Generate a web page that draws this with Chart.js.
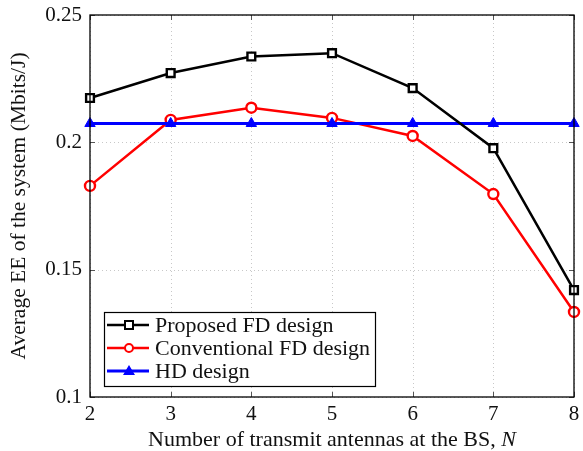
<!DOCTYPE html>
<html>
<head>
<meta charset="utf-8">
<script src="https://cdn.jsdelivr.net/npm/chart.js@4"></script>
<style>
  html, body { margin: 0; padding: 0; background: #fff; }
  #wrap { width: 583px; height: 451px; }
</style>
</head>
<body>
<div id="wrap"><canvas id="chartEE" width="583" height="451"></canvas></div>
<script>
// data
const antennas = [2, 3, 4, 5, 6, 7, 8];
const proposedFD = [0.2174, 0.2272, 0.2337, 0.2350, 0.2213, 0.1977, 0.1420];
const conventionalFD = [0.1829, 0.2088, 0.2136, 0.2096, 0.2025, 0.1797, 0.1334];
const hdDesign = [0.2074, 0.2074, 0.2074, 0.2074, 0.2074, 0.2074, 0.2074];
const yTicks = [0.1, 0.15, 0.2, 0.25];
const seriesNames = ["Proposed FD design", "Conventional FD design", "HD design"];

const SERIF = "'Liberation Serif', 'DejaVu Serif', serif";

function toPoints(ys) {
  return antennas.map((x, i) => ({ x: x, y: ys[i] }));
}

// frame, dotted grid, inward ticks, axis titles and the boxed legend
const decorPlugin = {
  id: "decor",
  beforeDatasetsDraw(chart) {
    const ctx = chart.ctx;
    const a = chart.chartArea;
    const xs = chart.scales.x;
    const ys = chart.scales.y;
    ctx.save();
    ctx.strokeStyle = "#c8c8c8";
    ctx.lineWidth = 1;
    ctx.setLineDash([1, 3]);
    ctx.beginPath();
    antennas.forEach((v) => {
      const px = Math.round(xs.getPixelForValue(v)) + 0.5;
      ctx.moveTo(px, a.top); ctx.lineTo(px, a.bottom);
    });
    yTicks.forEach((v) => {
      const py = Math.round(ys.getPixelForValue(v)) + 0.5;
      ctx.moveTo(a.left, py); ctx.lineTo(a.right, py);
    });
    ctx.stroke();
    ctx.restore();
  },
  afterDraw(chart) {
    const ctx = chart.ctx;
    const a = chart.chartArea;
    const xs = chart.scales.x;
    const ys = chart.scales.y;
    ctx.save();

    // inward tick marks on all four sides
    ctx.strokeStyle = "#555";
    ctx.lineWidth = 1;
    ctx.beginPath();
    antennas.forEach((v) => {
      const px = Math.round(xs.getPixelForValue(v)) + 0.5;
      ctx.moveTo(px, a.bottom); ctx.lineTo(px, a.bottom - 5);
      ctx.moveTo(px, a.top); ctx.lineTo(px, a.top + 5);
    });
    yTicks.forEach((v) => {
      const py = Math.round(ys.getPixelForValue(v)) + 0.5;
      ctx.moveTo(a.left, py); ctx.lineTo(a.left + 5, py);
      ctx.moveTo(a.right, py); ctx.lineTo(a.right - 5, py);
    });
    ctx.stroke();

    // frame
    ctx.strokeStyle = "#000";
    ctx.lineWidth = 1.3;
    ctx.strokeRect(a.left, a.top, a.right - a.left, a.bottom - a.top);

    // x title with italic N
    ctx.fillStyle = "#111";
    ctx.textBaseline = "middle";
    const t1 = "Number of transmit antennas at the BS, ";
    ctx.font = "22px " + SERIF;
    const w1 = ctx.measureText(t1).width;
    ctx.font = "italic 22px " + SERIF;
    const w2 = ctx.measureText("N").width;
    const cx = (a.left + a.right) / 2;
    const x0 = cx - (w1 + w2) / 2;
    ctx.textAlign = "left";
    ctx.font = "22px " + SERIF;
    ctx.fillText(t1, x0, 440);
    ctx.font = "italic 22px " + SERIF;
    ctx.fillText("N", x0 + w1, 440);

    // y title
    ctx.save();
    ctx.translate(19, (a.top + a.bottom) / 2);
    ctx.rotate(-Math.PI / 2);
    ctx.textAlign = "center";
    ctx.font = "21.5px " + SERIF;
    ctx.fillText("Average EE of the system (Mbits/J)", 0, 0);
    ctx.restore();

    // legend box
    const bx = 104, by = 312, bw = 271, bh = 74;
    ctx.fillStyle = "#fff";
    ctx.fillRect(bx, by, bw, bh);
    ctx.strokeStyle = "#000";
    ctx.lineWidth = 1.2;
    ctx.strokeRect(bx + 0.5, by + 0.5, bw, bh);
    const rowsY = [325, 348, 371];
    chart.data.datasets.forEach((ds, i) => {
      const ry = rowsY[i];
      ctx.strokeStyle = ds.borderColor;
      ctx.lineWidth = ds.borderWidth;
      ctx.beginPath();
      ctx.moveTo(bx + 3, ry);
      ctx.lineTo(149, ry);
      ctx.stroke();
      ctx.lineWidth = 2;
      ctx.fillStyle = ds.pointBackgroundColor;
      ctx.beginPath();
      if (ds.pointStyle === "rect") {
        ctx.rect(125, ry - 4, 8, 8);
        ctx.fill(); ctx.stroke();
      } else if (ds.pointStyle === "circle") {
        ctx.arc(129, ry, 4, 0, Math.PI * 2);
        ctx.fill(); ctx.stroke();
      } else {
        ctx.fillStyle = ds.borderColor;
        ctx.moveTo(129, ry - 6);
        ctx.lineTo(135, ry + 4);
        ctx.lineTo(123, ry + 4);
        ctx.closePath();
        ctx.fill();
      }
      ctx.fillStyle = "#111";
      ctx.textAlign = "left";
      ctx.font = "22px " + SERIF;
      ctx.fillText(ds.label, 155, ry + 1);
    });

    ctx.restore();
  },
};

const ctx = document.getElementById("chartEE").getContext("2d");
new Chart(ctx, {
  type: "line",
  data: {
    datasets: [
      {
        label: seriesNames[0],
        data: toPoints(proposedFD),
        borderColor: "#000000",
        borderWidth: 2.5,
        pointStyle: "rect",
        pointRadius: 5.5,
        pointBorderWidth: 2.4,
        pointBackgroundColor: "#ffffff",
        pointBorderColor: "#000000",
        clip: false,
        order: 1,
      },
      {
        label: seriesNames[1],
        data: toPoints(conventionalFD),
        borderColor: "#ff0000",
        borderWidth: 2.5,
        pointStyle: "circle",
        pointRadius: 5,
        pointBorderWidth: 2.4,
        pointBackgroundColor: "#ffffff",
        pointBorderColor: "#ff0000",
        clip: false,
        order: 3,
      },
      {
        label: seriesNames[2],
        data: toPoints(hdDesign),
        borderColor: "#0000ff",
        borderWidth: 3,
        pointStyle: "triangle",
        pointRadius: 6,
        pointBorderWidth: 1,
        pointBackgroundColor: "#0000ff",
        pointBorderColor: "#0000ff",
        clip: false,
        order: 2,
      },
    ],
  },
  options: {
    responsive: false,
    animation: false,
    layout: { padding: { top: 15, right: 9, left: 0, bottom: 0 } },
    plugins: { legend: { display: false }, tooltip: { enabled: false } },
    elements: { line: { tension: 0 } },
    scales: {
      x: {
        type: "linear",
        min: 2,
        max: 8,
        afterFit: (s) => { s.height = 54; s.paddingLeft = 0; s.paddingRight = 0; },
        afterBuildTicks: (s) => { s.ticks = antennas.map((v) => ({ value: v })); },
        grid: { display: false, drawTicks: false },
        border: { display: false },
        ticks: { color: "#111", padding: 5, font: { family: SERIF, size: 21 } },
      },
      y: {
        type: "linear",
        min: 0.1,
        max: 0.25,
        afterFit: (s) => { s.width = 90; s.paddingTop = 0; s.paddingBottom = 0; },
        afterBuildTicks: (s) => { s.ticks = yTicks.map((v) => ({ value: v })); },
        grid: { display: false, drawTicks: false },
        border: { display: false },
        ticks: { color: "#111", padding: 8, font: { family: SERIF, size: 21 }, callback: (v) => String(+v.toFixed(2)) },
      },
    },
  },
  plugins: [decorPlugin],
});
</script>
</body>
</html>
